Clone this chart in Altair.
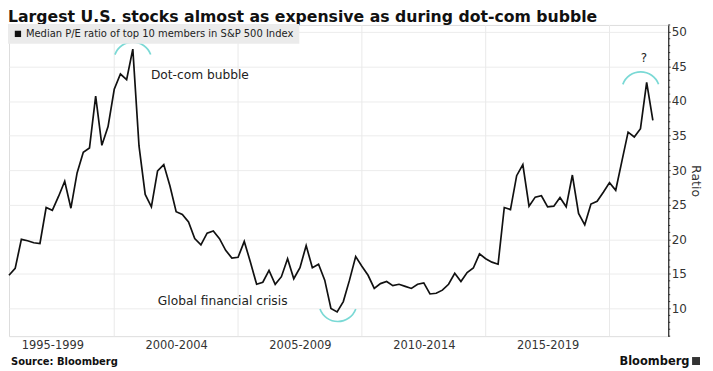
import altair as alt
import pandas as pd

# ---------------- data ----------------
TITLE = "Largest U.S. stocks almost as expensive as during dot-com bubble"
SERIES_NAME = "Median P/E ratio of top 10 members in S&P 500 Index"
START_YEAR = 1995.75          # first quarterly observation
pe_ratio = [
    14.8, 15.8, 20.0, 19.8, 19.5, 19.4, 24.6, 24.2, 26.2, 28.4,
    24.5, 29.6, 32.6, 33.2, 40.7, 33.6, 36.3, 41.7, 43.9, 43.1,
    47.5, 33.5, 26.5, 24.7, 29.9, 30.8, 27.7, 24.0, 23.6, 22.5,
    20.1, 19.2, 20.9, 21.2, 20.1, 18.4, 17.3, 17.4, 19.7, 16.7,
    13.5, 13.8, 15.5, 13.5, 14.6, 17.2, 14.3, 15.9, 19.1, 15.9,
    16.4, 14.1, 10.0, 9.5, 11.0, 14.1, 17.5, 16.1, 14.8, 12.9,
    13.6, 13.9, 13.3, 13.5, 13.2, 12.9, 13.5, 13.7, 12.1, 12.2,
    12.65, 13.5, 15.1, 13.9, 15.2, 15.85, 17.9, 17.2, 16.7, 16.4,
    24.6, 24.3, 29.2, 30.8, 24.8, 26.1, 26.3, 24.7, 24.8, 26.05,
    24.7, 29.3, 23.75, 22.1, 25.1, 25.5, 26.8, 28.2, 27.1, 31.3,
    35.5, 34.8, 36.0, 42.7, 37.2,
]
quarter_years = [START_YEAR + 0.25 * i for i in range(len(pe_ratio))]

period_boundaries = [2000, 2005, 2010, 2015, 2020]
period_label_pos = [1997.5, 2002.5, 2007.5, 2012.5, 2017.5]
y_ticks = [10, 15, 20, 25, 30, 35, 40, 45, 50]
y_minor = [v for v in range(6, 52) if v % 5 != 0]

annot_text = ["Dot-com bubble", "Global financial crisis", "?"]
annot_year = [2001.48, 2001.76, 2021.39]
annot_value = [43.79, 11.06, 46.27]

arc_year_top = [2000.75, 2021.26]
arc_value_top = [45.77, 41.47]
arc_year_bottom = [2009.03]
arc_value_bottom = [10.87]

# ---------------- layout ----------------
W, H = 663, 313
x_scale = alt.Scale(domain=[1995.75, 2022.37], nice=False, zero=False)
y_scale = alt.Scale(domain=[6, 51], nice=False, zero=False)
FONT = "DejaVu Sans"
TXT = "#222222"
CYAN = "#7ad9d5"

x_axis = alt.Axis(
    values=period_label_pos,
    labelExpr="floor(datum.value - 2.5) + '-' + (floor(datum.value - 2.5) + 4)",
    ticks=False, domain=False, grid=False,
    labelFontSize=11.5, labelColor="#333", labelPadding=3,
    labelFont=FONT, title=None,
)
y_axis = alt.Axis(
    orient="right", values=y_ticks, grid=True, gridColor="#ececec",
    domainColor="#333", domainWidth=1.3, tickColor="#333", tickSize=2,
    labelFontSize=12, labelColor="#333", labelPadding=1, labelFont=FONT,
    title="Ratio", titleFontSize=12.5, titleFontWeight="normal",
    titleColor="#333", titlePadding=2, titleFont=FONT,
)


def X(field):
    return alt.X(field, scale=x_scale, axis=x_axis, title=None)


def Y(field):
    return alt.Y(field, scale=y_scale, axis=y_axis, title="Ratio")


df = pd.DataFrame({"year": quarter_years, "pe": pe_ratio, "series": SERIES_NAME})

vgrid = alt.Chart(pd.DataFrame({"year": period_boundaries})).mark_rule(
    color="#e9e9e9", strokeWidth=1
).encode(x=X("year:Q"))

line = alt.Chart(df).mark_line(strokeWidth=1.7, color="#111").encode(
    x=X("year:Q"),
    y=Y("pe:Q"),
    color=alt.Color(
        "series:N",
        scale=alt.Scale(range=["#111111"]),
        legend=alt.Legend(
            title=None, orient="none", legendX=-1, legendY=-1,
            fillColor="#ebebeb", padding=5, labelFontSize=10, labelColor=TXT,
            labelFont=FONT, labelLimit=400, symbolType="square", symbolSize=40,
            symbolFillColor="#111111", symbolStrokeWidth=0, labelOffset=3,
        ),
    ),
)

minor = alt.Chart(pd.DataFrame({"pe": y_minor})).mark_rule(
    color="#333", strokeWidth=1
).encode(
    y=Y("pe:Q"),
    x=alt.value(W), x2=alt.value(W + 2),
)

ann_df = pd.DataFrame({"year": annot_year, "pe": annot_value, "label": annot_text})
ann_left = alt.Chart(ann_df.iloc[:2]).mark_text(
    align="left", baseline="middle", fontSize=12.3, font=FONT, color=TXT
).encode(x=X("year:Q"), y=Y("pe:Q"), text="label:N")
ann_q = alt.Chart(ann_df.iloc[2:]).mark_text(
    align="center", baseline="middle", fontSize=12, font=FONT, color=TXT
).encode(x=X("year:Q"), y=Y("pe:Q"), text="label:N")

arcs_top = alt.Chart(pd.DataFrame({"year": arc_year_top, "pe": arc_value_top})).mark_arc(
    radius=20, innerRadius=18.3, theta=5.06, theta2=7.5, color=CYAN
).encode(x=X("year:Q"), y=Y("pe:Q"))
arcs_bottom = alt.Chart(pd.DataFrame({"year": arc_year_bottom, "pe": arc_value_bottom})).mark_arc(
    radius=20, innerRadius=18.3, theta=1.92, theta2=4.36, color=CYAN
).encode(x=X("year:Q"), y=Y("pe:Q"))

title = alt.Chart(pd.DataFrame({"t": [TITLE]})).mark_text(
    align="left", baseline="top", fontSize=15.8, fontWeight="bold", font=FONT, color="#111"
).encode(text="t:N", x=alt.value(-1), y=alt.value(-15))

source = alt.Chart(pd.DataFrame({"t": ["Source: Bloomberg"]})).mark_text(
    align="left", baseline="middle", fontSize=10, fontWeight="bold", font=FONT, color="#111"
).encode(text="t:N", x=alt.value(2), y=alt.value(H + 26))

brand = alt.Chart(pd.DataFrame({"t": ["Bloomberg"]})).mark_text(
    align="left", baseline="middle", fontSize=11.5, fontWeight="bold", font=FONT, color="#111"
).encode(text="t:N", x=alt.value(614), y=alt.value(H + 26))

brand_icon = alt.Chart(pd.DataFrame({"t": ["icon"]})).mark_square(
    size=64, color="#333", opacity=1
).encode(x=alt.value(691), y=alt.value(H + 25))

chart = alt.layer(
    vgrid, line, minor, arcs_top, arcs_bottom, ann_left, ann_q, title, source, brand, brand_icon
).properties(
    width=W, height=H,
    padding={"left": -3, "top": 0, "right": 3, "bottom": 0},
).configure_view(stroke=None).configure(font=FONT)

chart.save("out.html", embed_options={"renderer": "svg", "actions": False})
